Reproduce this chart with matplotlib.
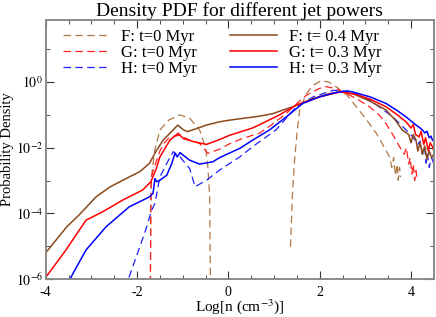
import numpy as np
import matplotlib
matplotlib.use("Agg")
import matplotlib.pyplot as plt

# log10(n) and log10(PDF)
f_t0_x = [-1.71, -1.70, -1.69, -1.66, -1.61, -1.50, -1.30, -1.06, -0.85, -0.63, -0.50, -0.45, -0.41, -0.39,
          np.nan,
          1.36, 1.40, 1.45, 1.50, 1.56, 1.71, 1.85, 2.03, 2.20, 2.36, 2.60, 2.80, 3.00, 3.24, 3.40, 3.53,
          3.58, 3.62, 3.66, 3.70, 3.72, 3.75, 3.77]
f_t0_y = [-6.5, -4.0, -3.0, -2.6, -2.07, -1.46, -1.15, -1.0, -1.1, -1.46, -2.0, -2.58, -3.5, -6.5,
          np.nan,
          -5.02, -3.5, -2.38, -1.6, -0.85, -0.35, -0.1, 0.04, 0.0, -0.14, -0.4, -0.75, -1.1, -1.56, -1.95, -2.28,
          -2.6, -2.3, -2.85, -2.5, -2.99, -2.6, -2.9]

g_t0_x = [-1.71, -1.70, -1.69, -1.60, -1.50, -1.40, -1.28, -1.06, -0.85, -0.63, -0.45, -0.20, 0.00, 0.25,
          0.53, 0.68, 0.90, 1.27, 1.50, 1.71, 2.00, 2.14, 2.35, 2.58, 2.80, 3.09, 3.30, 3.45, 3.60, 3.75,
          3.85, 3.90, 3.95, 3.98, 4.02, 4.05, 4.08, 4.11, 4.13]
g_t0_y = [-6.5, -4.0, -2.89, -2.5, -2.1, -1.85, -1.67, -1.62, -1.77, -1.87, -2.17, -2.05, -1.9, -1.75,
          -1.62, -1.56, -1.35, -0.96, -0.65, -0.40, -0.19, -0.14, -0.2, -0.35, -0.5, -0.75, -1.0, -1.26, -1.6, -1.97,
          -2.2, -2.0, -2.5, -2.3, -2.8, -2.5, -3.0, -2.7, -2.95]

h_t0_x = [-2.25, -2.19, -1.94, -1.81, -1.68, -1.61, -1.50, -1.35, -1.21, -1.06, -0.85, -0.73, -0.48, -0.19,
          0.25, 0.53, 1.04, 1.49, 1.86, 2.30, 2.70, 3.09, 3.35, 3.60, 3.85, 4.04, 4.15, 4.20, 4.25, 4.30,
          4.33, 4.36, 4.40, 4.45, 4.50]
h_t0_y = [-6.3, -6.0, -5.02, -4.5, -3.9, -3.70, -2.89, -2.48, -2.12, -2.28, -2.63, -3.19, -2.99, -2.68,
          -2.28, -1.97, -1.46, -0.75, -0.45, -0.25, -0.3, -0.55, -0.8, -1.06, -1.4, -1.67, -1.9, -1.8, -2.2, -2.0,
          -2.47, -2.2, -2.6, -2.3, -2.5]

f_late_x = [-4.00, -3.54, -3.27, -2.90, -2.60, -2.17, -1.94, -1.73, -1.59, -1.43, -1.21, -1.11, -0.99, -0.90,
            -0.70, -0.48, -0.19, 0.03, 0.68, 0.98, 1.20, 1.42, 1.86, 2.22, 2.45, 2.72, 3.10, 3.45, 3.65, 3.81,
            3.95, 4.00, 4.05, 4.11, 4.15, 4.20, 4.25, 4.30, 4.35, 4.40, 4.45, 4.50]
f_late_y = [-5.2, -4.41, -4.05, -3.5, -3.2, -2.89, -2.73, -2.48, -2.12, -1.77, -1.46, -1.31, -1.45, -1.51,
            -1.42, -1.31, -1.21, -1.16, -1.04, -0.96, -0.85, -0.75, -0.50, -0.35, -0.30, -0.35, -0.58, -0.85, -1.15, -1.46,
            -1.6, -1.85, -1.6, -1.77, -2.1, -1.85, -2.2, -1.95, -2.35, -2.1, -2.3, -2.2]

g_late_x = [-4.00, -3.56, -3.12, -2.75, -2.32, -1.88, -1.70, -1.59, -1.50, -1.28, -1.10, -0.99, -0.75, -0.48,
            -0.19, 0.03, 0.53, 0.68, 1.12, 1.49, 2.00, 2.45, 2.80, 3.10, 3.45, 3.70, 3.89, 4.00, 4.05, 4.10,
            4.18, 4.22, 4.28, 4.32, 4.38, 4.42, 4.47, 4.50]
g_late_y = [-5.95, -5.12, -4.21, -3.95, -3.6, -3.29, -3.04, -2.68, -2.28, -1.77, -1.56, -1.72, -1.82, -1.90,
            -1.75, -1.62, -1.4, -1.3, -1.0, -0.70, -0.45, -0.30, -0.38, -0.52, -0.75, -1.0, -1.21, -1.4, -1.3, -1.6,
            -1.67, -1.5, -1.9, -1.7, -2.1, -1.85, -1.97, -2.1]

h_late_x = [-3.50, -3.45, -3.12, -2.68, -2.17, -1.73, -1.65, -1.61, -1.57, -1.50, -1.35, -1.24, -1.17, -1.12,
            -1.06, -0.85, -0.63, -0.34, -0.19, 0.25, 0.53, 0.90, 1.27, 1.63, 2.00, 2.35, 2.60, 2.72, 3.10, 3.45,
            3.70, 3.89, 4.10, 4.20, 4.25, 4.30, 4.35, 4.40, 4.44, 4.47, 4.50]
h_late_y = [-6.2, -5.95, -5.12, -4.41, -3.80, -3.5, -3.39, -2.94, -3.04, -2.99, -2.84, -2.48, -2.17, -2.28,
            -2.15, -2.38, -2.5, -2.43, -2.30, -2.02, -1.77, -1.46, -1.06, -0.65, -0.45, -0.32, -0.27, -0.30, -0.45, -0.65,
            -0.87, -1.06, -1.3, -1.4, -1.46, -1.55, -1.5, -1.7, -1.65, -1.77, -1.8]

series = [
    (f_t0_x, f_t0_y, "#b07848", "--", "F: t=0 Myr"),
    (g_t0_x, g_t0_y, "#ff2020", "--", "G: t=0 Myr"),
    (h_t0_x, h_t0_y, "#2020ff", "--", "H: t=0 Myr"),
    (f_late_x, f_late_y, "#8b4a1c", "-", "F: t= 0.4 Myr"),
    (g_late_x, g_late_y, "#ff0000", "-", "G: t= 0.3 Myr"),
    (h_late_x, h_late_y, "#0000ff", "-", "H: t= 0.3 Myr"),
]

plt.rcParams["font.family"] = ["Liberation Serif", "DejaVu Serif"]
plt.rcParams["mathtext.fontset"] = "stix"

fig = plt.figure(figsize=(4.36, 3.17), dpi=100)
ax = fig.add_axes([0.105, 0.12, 0.89, 0.817])

for xs, ys, color, ls, label in series:
    xs = np.array(xs, dtype=float)
    ys = 10 ** np.array(ys, dtype=float)
    if ls == "--":
        ax.plot(xs, ys, color=color, ls=ls, lw=0.9, dashes=(6, 3.5), label=label)
    else:
        ax.plot(xs, ys, color=color, ls=ls, lw=1.1, label=label)

ax.set_yscale("log")
ax.set_xlim(-4, 4.5)
ax.set_ylim(1e-6, 78)
ax.set_xticks([-4, -2, 0, 2, 4])
ax.set_xticklabels(["-4", "-2", "0", "2", "4"])
ax.set_xticks(np.arange(-4, 4.6, 0.5), minor=True)
ax.set_yticks([1e-6, 1e-4, 1e-2, 1])
ax.set_yticklabels([r"$10^{-6}$", r"$10^{-4}$", r"$10^{-2}$", r"$10^{0}$"])
ax.set_yticks([1e-5, 1e-3, 1e-1, 10], minor=True)
ax.yaxis.set_minor_formatter(matplotlib.ticker.NullFormatter())
ax.tick_params(which="both", direction="in", top=True, right=True, labelsize=10, color="#333333")
ax.tick_params(which="major", length=6)
ax.tick_params(axis="x", which="major", pad=5)
ax.tick_params(axis="y", which="major", pad=2)
ax.tick_params(which="minor", length=3)
for sp in ax.spines.values():
    sp.set_color("#8a8a8a")
    sp.set_linewidth(1.4)

ax.set_title("Density PDF for different jet powers", fontsize=14, pad=3)
ax.set_xlabel(r"Log[n (cm$^{-3}$)]", fontsize=11)
ax.set_ylabel("Probability Density", fontsize=10.5)
ax.xaxis.set_label_coords(0.5, -0.068)
ax.yaxis.set_label_coords(-0.081, 0.5)

ax.legend(loc="upper left", ncol=2, frameon=False, fontsize=12, handlelength=2.8,
          handletextpad=0.7, columnspacing=2.0, labelspacing=0.0,
          bbox_to_anchor=(0.044, 0.965), borderaxespad=0.0, borderpad=0.0)

fig.savefig("out.png", dpi=100)
